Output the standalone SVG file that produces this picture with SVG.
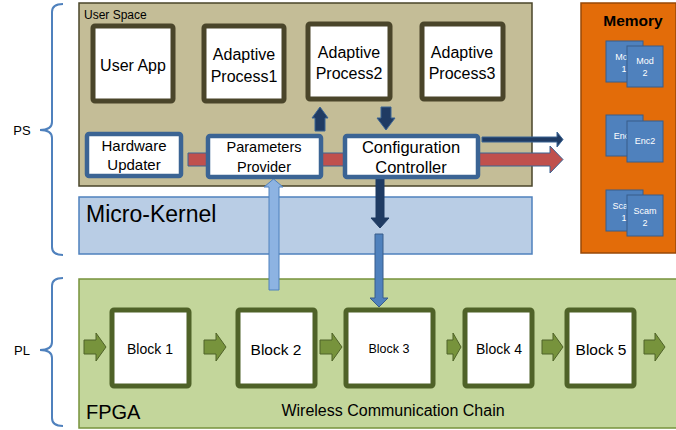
<svg xmlns="http://www.w3.org/2000/svg" width="676" height="430" viewBox="0 0 676 430">
<defs>
<style>
text{font-family:"Liberation Sans",Arial,sans-serif;fill:#000;text-anchor:middle}
.brace{fill:none;stroke:#4f81bd;stroke-width:2}
.up{fill:#4a452a}
.proc{fill:#fff;stroke:#4a452a;stroke-width:5}
.sys{fill:#fff;stroke:#3b6494;stroke-width:4.5}
.blk{fill:#fff;stroke:#4f6228;stroke-width:5}
.garr{fill:#77933c;stroke:#4f6228;stroke-width:1}
.mem{fill:#4f81bd;stroke:#385d8a;stroke-width:1}
.memt{font-size:9px;fill:#fff}
</style>
</defs>
<rect width="676" height="430" fill="#fff"/>
<g id="ps-brace">
<path class="brace" d="M63,4 Q52,4 52,12 V122 Q52,130 40,130 Q52,130 52,138 V247 Q52,255 63,255"/>
<text x="22" y="135" font-size="13">PS</text>
</g>
<g id="pl-brace">
<path class="brace" d="M63,278 Q52,278 52,286 V342 Q52,350 40,350 Q52,350 52,358 V418 Q52,426 63,426"/>
<text x="22" y="355" font-size="13">PL</text>
</g>
<g id="user-space">
<rect x="79" y="3" width="453" height="183" fill="#c4bd97" stroke="#4a452a" stroke-width="1.5"/>
<text x="84" y="19" font-size="12" style="text-anchor:start">User Space</text>
</g>
<g id="micro-kernel">
<rect x="79" y="197" width="453" height="57" fill="#b9cde5" stroke="#4f81bd" stroke-width="1.5"/>
<text x="86" y="222" font-size="23" style="text-anchor:start">Micro-Kernel</text>
</g>
<g id="fpga">
<rect x="79" y="279" width="602" height="149" fill="#c3d69b" stroke="#77933c" stroke-width="1.5"/>
<text x="86" y="419" font-size="20" style="text-anchor:start">FPGA</text>
<text x="393" y="416" font-size="16">Wireless Communication Chain</text>
</g>
<g id="memory">
<rect x="581" y="3" width="95" height="250" fill="#e36c09" stroke="#984807" stroke-width="1.5"/>
<text x="633" y="26" font-size="15.5" font-weight="bold">Memory</text>
<rect class="mem" x="606" y="41" width="37" height="41"/>
<text class="memt" x="624" y="60">Mod</text><text class="memt" x="624" y="72">1</text>
<rect class="mem" x="627" y="46" width="36" height="41"/>
<text class="memt" x="645" y="64">Mod</text><text class="memt" x="645" y="76">2</text>
<rect class="mem" x="606" y="115" width="37" height="41"/>
<text class="memt" x="624" y="139">Enc1</text>
<rect class="mem" x="627" y="121" width="36" height="41"/>
<text class="memt" x="645" y="144">Enc2</text>
<rect class="mem" x="606" y="190" width="37" height="41"/>
<text class="memt" x="624" y="209">Scam</text><text class="memt" x="624" y="221">1</text>
<rect class="mem" x="627" y="195" width="36" height="41"/>
<text class="memt" x="645" y="214">Scam</text><text class="memt" x="645" y="226">2</text>
</g>
<g id="connectors">
<path d="M188,153 H550 V146 L563,159.5 L550,173 V166 H188 Z" fill="#c0504d" stroke="#3b6494" stroke-width="1"/>
<path d="M482,137 H557 V132 L563,139.5 L557,147 V142 H482 Z" fill="#1f3b63" stroke="#3b6494" stroke-width="1"/>
<path d="M315,131 V118 H312 L320,107 L328,118 H325 V131 Z" fill="#1f3b63" stroke="#3b6494" stroke-width="1"/>
<path d="M381,107 V118 H377 L386,130 L395,118 H391 V107 Z" fill="#1f3b63" stroke="#3b6494" stroke-width="1"/>
<path d="M376,179 V218 H371 L380,228 L389,218 H384 V179 Z" fill="#1f3b63" stroke="#1f3b63" stroke-width="1"/>
<path d="M375,234 V298 H370 L379,307 L388,298 H383 V234 Z" fill="#4f81bd" stroke="#385d8a" stroke-width="1"/>
<path d="M269,290 V187 H264 L273.5,179 L283,187 H279 V290 Z" fill="#8db3e2" stroke="#4f81bd" stroke-width="1"/>
<path class="garr" d="M84,340 H96 V333 L106,347 L96,361 V354 H84 Z"/>
<path class="garr" d="M204,340 H216 V333 L226,347 L216,361 V354 H204 Z"/>
<path class="garr" d="M320,340 H332 V333 L342,347 L332,361 V354 H320 Z"/>
<path class="garr" d="M447,340 H453 V333 L461,347 L453,361 V354 H447 Z"/>
<path class="garr" d="M542,340 H553 V333 L563,347 L553,361 V354 H542 Z"/>
<path class="garr" d="M644,340 H655 V333 L665,347 L655,361 V354 H644 Z"/>
</g>
<g id="user-app">
<rect class="proc" x="93" y="26" width="80" height="75" rx="2"/>
<text x="133" y="71" font-size="16">User App</text>
</g>
<g id="adaptive-process1">
<rect class="proc" x="204" y="26" width="80" height="75" rx="2"/>
<text x="244" y="60" font-size="16">Adaptive</text>
<text x="244" y="82" font-size="16">Process1</text>
</g>
<g id="adaptive-process2">
<rect class="proc" x="308" y="24" width="82" height="75" rx="2"/>
<text x="349" y="58" font-size="16">Adaptive</text>
<text x="349" y="79" font-size="16">Process2</text>
</g>
<g id="adaptive-process3">
<rect class="proc" x="422" y="24" width="81" height="75" rx="2"/>
<text x="462" y="58" font-size="16">Adaptive</text>
<text x="462" y="79" font-size="16">Process3</text>
</g>
<g id="hardware-updater">
<rect class="sys" x="87" y="134" width="94" height="42" rx="2"/>
<text x="134" y="151" font-size="15">Hardware</text>
<text x="134" y="170" font-size="15">Updater</text>
</g>
<g id="parameters-provider">
<rect class="sys" x="208" y="136" width="113" height="41" rx="2"/>
<text x="264" y="152" font-size="14.5">Parameters</text>
<text x="264" y="172" font-size="14.5">Provider</text>
</g>
<g id="configuration-controller">
<rect class="sys" x="345" y="136" width="133" height="41" rx="2"/>
<text x="411" y="153" font-size="16.5">Configuration</text>
<text x="411" y="173" font-size="16.5">Controller</text>
</g>
<g id="block1">
<rect class="blk" x="112" y="310" width="77" height="76" rx="2"/>
<text x="150" y="354" font-size="14">Block 1</text>
</g>
<g id="block2">
<rect class="blk" x="238" y="310" width="77" height="76" rx="2"/>
<text x="276" y="355" font-size="15.5">Block 2</text>
</g>
<g id="block3">
<rect class="blk" x="346" y="310" width="87" height="76" rx="2"/>
<text x="389" y="353" font-size="12.5">Block 3</text>
</g>
<g id="block4">
<rect class="blk" x="465" y="310" width="67" height="76" rx="2"/>
<text x="499" y="354" font-size="14">Block 4</text>
</g>
<g id="block5">
<rect class="blk" x="567" y="310" width="67" height="76" rx="2"/>
<text x="601" y="355" font-size="15.5">Block 5</text>
</g>
</svg>
